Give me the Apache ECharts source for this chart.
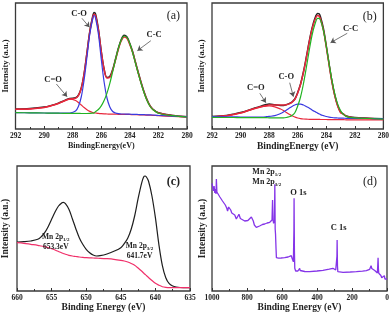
<!DOCTYPE html>
<html><head><meta charset="utf-8">
<script src="https://cdn.jsdelivr.net/npm/echarts/dist/echarts.min.js"></script>
<style>html,body{margin:0;padding:0;background:#fff}#c{width:392px;height:318px}</style>
</head><body><div id="c"></div>
<script>
// ---------- Panel (a): C 1s, sample A ----------
const energyA = [292,291,290,289.5,289,288.6,288.2,287.8,287.6,287.4,287.2,287,286.8,286.6,286.5,286.4,286.2,286,285.8,285.6,285.4,285.2,285,284.8,284.6,284.4,284.2,284,283.8,283.6,283.4,283.2,283,282.8,282.6,282.4,282,281,280];
const rawA = [19.9,20.5,21.9,23.6,25.9,28.4,30.6,31.2,33.8,41,55.5,76.5,98,112.5,116.5,115,100,78,60,51.5,52.5,59.5,70,81,89.5,93.8,92,85.5,77.2,66.5,56,46,37,29.5,23.6,20,16.2,13.6,12.3];
const fitA = [19.7,20.1,21.5,23.3,25.5,28,30,30.7,33.3,40.5,55,75.8,97.1,111.3,114.7,113.4,99.1,77.4,59.5,50.9,51.6,58.7,69.3,79.8,88.2,92.1,90.6,84.3,76.5,66,55.5,45.6,36.5,29,23.3,19.7,16,13.5,12.2];
const cdoA = [19.7,20.1,21.5,23.3,25.5,28,29.8,28.5,26.5,24,21.5,19.3,17.6,16.5,16.2,16,15.6,15.3,15.1,15,14.9,14.8,14.8,14.7,14.7,14.6,14.6,14.5,14.4,14.3,14.2,14.1,14,13.9,13.8,13.7,13.3,12.6,12];
const coA = [16.3,16.2,16,15.9,15.8,15.8,16,17.9,22.4,32,49,72,95,110,113.5,111,95,70,47,31,22,17.5,16,15.3,15,15,14.9,14.8,14.7,14.6,14.5,14.4,14.3,14.2,14.1,14,13.6,12.9,12.3];
const ccA = [16.3,16.2,16,15.9,15.8,15.7,15.7,15.6,15.6,15.5,15.5,15.5,15.6,15.8,16,17.4,19.5,23.1,28.4,35.9,45.7,57.4,69.5,80.6,89,93,91.5,85.3,76,65.5,55,45,36,28.5,23,19.5,15.8,13.3,12];

// ---------- Panel (b): C 1s, sample B ----------
const energyB = [292,291,290.5,290,289.5,289,288.5,288.2,288,287.6,287.2,287,286.8,286.6,286.4,286.2,286,285.8,285.6,285.4,285.2,285,284.8,284.6,284.5,284.4,284.2,284,283.8,283.6,283.4,283.2,283,282.8,282.6,282.4,282,281,280];
const rawB = [12.5,13.6,14.8,16.4,18.5,21,23.2,24.4,25,24.2,23.5,23.6,24.3,25.4,27,30,36.5,45,57,71.5,87,100.5,110.5,115.5,115.2,112,100.5,83.5,65,47.5,33.5,23.5,17,15,13,12.2,11.4,10.8,10.2];
const fitB = [12.3,13.2,14.5,16,18.2,20.5,22.5,23.4,24,24,24,24,24.2,25.1,26.6,29.6,36.1,44.5,56.3,70.6,86,99.5,108.8,113.5,112.7,109.8,98.8,82.3,64,46.8,33.1,23,16.5,14.8,12.8,11.9,11.2,10.5,9.9];
const cdoB = [12.3,13.2,14.5,16,18.2,20.5,22.3,22.9,23,22.2,20,18.5,16.6,14.8,13.2,12,11,10.4,10,9.8,9.7,9.6,9.6,9.6,9.6,9.5,9.5,9.5,9.4,9.4,9.4,9.3,9.3,9.3,9.2,9.2,9.2,9.1,9];
const coB = [12.3,12.2,12.1,12,11.9,11.9,12,12.3,12.6,13.3,15.5,17,18.8,20.8,22.6,24,24.8,24.8,24,22.5,21,19.1,17.4,15.9,15.1,14.4,13.4,12.5,11.9,11.5,11.2,11,10.8,10.8,10.7,10.7,10.6,10.5,10.3];
const ccB = [11.6,11.5,11.5,11.4,11.4,11.3,11.3,11.3,11.2,11.2,11.2,11.2,11.5,12.2,13.5,16.3,23,32,45,61,78,93.5,104.5,110.7,110.7,108.6,98.6,83,65.4,48.6,34.9,24.9,18.4,14.6,12.6,11.7,11.1,10.5,9.9];

// ---------- Panel (c): Mn 2p ----------
const energyC = [660,659,658,657,656.5,656,655.5,655,654.5,654,653.5,653.3,653,652.5,652,651.5,651,650.5,650,649.5,649,648.5,648,647,646,645,644.5,644,643.5,643,642.5,642,641.7,641.5,641.3,641,640.5,640,639.5,639,638.5,638,637.5,637,636,635];
const mnC = [49,49.3,50,51.7,54.3,58.3,64.3,71.7,79,85,88.3,88.7,87.3,81.7,72.3,62.3,53.3,46.7,41.7,38.3,36,35,35.3,37,39.7,43.3,47.3,52.7,61.7,75,92.3,107.7,114,115,114,110,95,73.3,46.7,25.7,13.3,7.3,5,4,3.3,3.3];
const bgC = [48.3,47.7,46.7,45.7,45,44.3,43.3,42.3,41,39.5,38,37.5,36.7,35.7,35,34.5,34,33.6,33.3,33.1,33,32.8,32.7,32.3,31.7,30.7,30,29,27.5,25.7,23,20,18,16.7,15.5,13.5,10.5,7.7,5.8,4.3,3.6,3.3,3.3,3.3,3.3,3.3];

// ---------- Panel (d): survey ----------
const energyD = [1000,996,992,988,984,980,977,975,972,968,962,955,948,940,932,924,916,911,905,899,893,887,878,870,861,852,846,838,830,813,795,785,775,770,764,758,747,738,728,712,699,685,670,660,657,654,651,648,645,643,641,639,637,634,632,620,605,585,565,556,547,541,535,532,531,529,527,522,509,502,499,496,493,470,442,400,366,330,309,300,293,288,286,285,283,281,270,251,210,175,140,118,99,94,91,87,84,70,61,55,53,51,49,47,40,35,30,26,23,19,15,12,8,4,0];
const surveyD = [107.7,104,100,105,98,102,97,112,99,101,97,94,93,90,88,86,83,80,84,86,81,78,77,76,72,74,76.7,72.5,71,70,70.5,71,74,76,70,66,63.7,64.5,65,66.5,67,68,68.7,70,71,91,71,67.7,66.5,70,106.7,62,57,42,33.3,32.8,33,33.3,34,34.3,35.3,32,29.3,60,92.7,40,22.7,20,20,21,22.7,20.5,20,19.5,19.3,20,20.7,21.8,22.7,22.2,21,20,35,51,25,19.3,19,18.7,19,19.3,19.8,20.3,21.7,23.5,25.3,22.5,21,20.5,19.3,18,25,33.3,22,17.7,16.5,15.5,13.3,12,12.5,15,15.3,12,11,11.5,12];

// ---------- tick / axis settings ----------
const xRangeA = [280, 292, 2];
const xRangeC = [635, 660, 5];
const xRangeD = [0, 1000, 200];

const SERIF = "'Liberation Serif','Times New Roman',serif";
const INK = '#222';
const pairs = (xs, ys) => xs.map((x, i) => [x, ys[i]]);

const grids = [
  {left: 15, top: 3, width: 172, height: 126},
  {left: 212, top: 3, width: 172, height: 126},
  {left: 16, top: 166, width: 174, height: 125},
  {left: 212, top: 166, width: 175, height: 125}
].map(g => Object.assign({show: true, borderColor: '#3a3a3a', borderWidth: 1.3, backgroundColor: 'transparent'}, g));

function xAx(idx, r, name, nameSize, nameGap) {
  return {
    gridIndex: idx, type: 'value', min: r[0], max: r[1], interval: r[2], inverse: true,
    axisLine: {show: false},
    axisTick: {show: true, inside: true, length: 3, lineStyle: {color: '#333', width: 1}},
    minorTick: {show: true, splitNumber: 2, length: 2, lineStyle: {color: '#333', width: 1}},
    splitLine: {show: false}, minorSplitLine: {show: false},
    axisLabel: {fontSize: 7.5, fontWeight: 'bold', fontFamily: SERIF, color: INK, margin: 3,
      showMinLabel: true, showMaxLabel: true, formatter: v => String(v)},
    name: name, nameLocation: 'middle', nameGap: nameGap,
    nameTextStyle: {fontSize: nameSize, fontWeight: 'bold', fontFamily: SERIF, color: INK, verticalAlign: 'top'}
  };
}
function yAx(idx, max, nameSize, nameGap) {
  return {
    gridIndex: idx, type: 'value', min: 0, max: max,
    axisLine: {show: false}, axisTick: {show: false}, axisLabel: {show: false}, splitLine: {show: false},
    name: 'Intensity (a.u.)', nameLocation: 'middle', nameGap: nameGap,
    nameTextStyle: {fontSize: nameSize, fontWeight: 'bold', fontFamily: SERIF, color: INK}
  };
}
function line(idx, xs, ys, color, width, z, smooth) {
  return {
    type: 'line', xAxisIndex: idx, yAxisIndex: idx, data: pairs(xs, ys),
    smooth: smooth === false ? false : 0.35, symbol: 'none', showSymbol: false,
    lineStyle: {color: color, width: width}, z: z, silent: true, animation: false
  };
}
const annStyle = (size, weight) => ({show: true, position: 'inside', fontSize: size, fontWeight: weight, fontFamily: SERIF, color: INK});
function texts(items) {
  return {
    symbol: 'circle', symbolSize: 1, itemStyle: {color: 'rgba(0,0,0,0)'}, silent: true, animation: false,
    data: items.map(t => ({coord: t[0], label: Object.assign(annStyle(t[2] || 8.5, t[3] || 'bold'), {formatter: t[1]}, t[4] || {})}))
  };
}
function arrows(items) {
  return {
    symbol: ['none', 'arrow'], symbolSize: 5, silent: true, animation: false,
    label: {show: false}, lineStyle: {color: '#555', width: 0.8, type: 'solid'},
    data: items.map(a => [{coord: a[0]}, {coord: a[1]}])
  };
}

const RED = '#e8283c', BLUE = '#3a3ae0', GREEN = '#22b322', BLACK = '#222';

const sA = line(0, energyA, rawA, BLACK, 1.5, 1);
sA.markPoint = texts([
  [[287.55, 115.7], 'C-O'], [[282.3, 94], 'C-C'], [[289.37, 49.7], 'C=O'],
  [[280.95, 113], '(a)', 12, 'normal']
]);
sA.markLine = arrows([
  [[287.35, 110.7], [286.82, 101.7]],
  [[282.53, 88.3], [283.47, 78.3]],
  [[289.14, 45], [288.39, 32.3]]
]);
const sB = line(1, energyB, rawB, BLACK, 1.5, 1);
sB.markPoint = texts([
  [[282.3, 100.7], 'C-C'], [[286.8, 52.3], 'C-O'], [[288.93, 41.7], 'C=O'],
  [[280.95, 112.3], '(b)', 12, 'normal']
]);
sB.markLine = arrows([
  [[282.53, 95.7], [283.7, 86.3]],
  [[286.56, 46.3], [286.3, 32.3]],
  [[288.65, 35.7], [288.23, 26.3]]
]);
const richC = {
  a: {fontSize: 7.5, fontWeight: 'bold', fontFamily: SERIF, color: INK, lineHeight: 10},
  s: {fontSize: 5, fontWeight: 'bold', fontFamily: SERIF, color: INK, lineHeight: 10, verticalAlign: 'bottom'}
};
const sC = line(2, energyC, mnC, '#1e1e1e', 1.2, 2);
sC.markPoint = texts([
  [[654.4, 49], '{a|Mn 2p}{s|1/2}\n{a|653.3eV}', 7.5, 'bold', {rich: richC}],
  [[642.3, 40], '{a|Mn 2p}{s|3/2}\n{a|641.7eV}', 7.5, 'bold', {rich: richC}],
  [[637.4, 108.7], '(c)', 12, 'bold']
]);
const sD = line(3, energyD, surveyD, '#8535e8', 1.3, 2, false);
const richD = {
  a: {fontSize: 8, fontWeight: 'bold', fontFamily: SERIF, color: INK, lineHeight: 10},
  s: {fontSize: 5, fontWeight: 'bold', fontFamily: SERIF, color: INK, lineHeight: 10, verticalAlign: 'bottom'}
};
sD.markPoint = texts([
  [[687, 113.7], '{a|Mn 2p}{s|1/2}\n{a|Mn 2p}{s|3/2}', 8, 'bold', {rich: richD}],
  [[506, 98.7], 'O 1s', 8.5], [[276, 63], 'C 1s', 8.5],
  [[97, 108.7], '(d)', 12, 'normal']
]);

const option = {
  animation: false,
  grid: grids,
  xAxis: [
    xAx(0, xRangeA, 'BindingEnergy(eV)', 8, 13),
    xAx(1, xRangeA, 'BindingEnergy (eV)', 9.5, 13),
    xAx(2, xRangeC, 'Binding Energy (eV)', 9.5, 8),
    xAx(3, xRangeD, 'Binding Energy (eV)', 9.5, 9)
  ],
  yAxis: [yAx(0, 126, 8.5, 5.5), yAx(1, 126, 8.5, 5.5), yAx(2, 125, 9.5, 6), yAx(3, 125, 9.5, 4.5)],
  series: [
    sA,
    line(0, energyA, fitA, RED, 1.5, 2),
    line(0, energyA, cdoA, RED, 1.2, 3),
    line(0, energyA, coA, BLUE, 1.2, 4),
    line(0, energyA, ccA, GREEN, 1.2, 5),
    sB,
    line(1, energyB, fitB, RED, 1.5, 2),
    line(1, energyB, cdoB, RED, 1.2, 3),
    line(1, energyB, coB, BLUE, 1.2, 4),
    line(1, energyB, ccB, GREEN, 1.2, 5),
    line(2, energyC, bgC, '#f0306a', 1.2, 3),
    sC,
    sD
  ]
};
const chart = echarts.init(document.getElementById('c'), null, {renderer: 'canvas'});
chart.setOption(option);
</script>
</body></html>
